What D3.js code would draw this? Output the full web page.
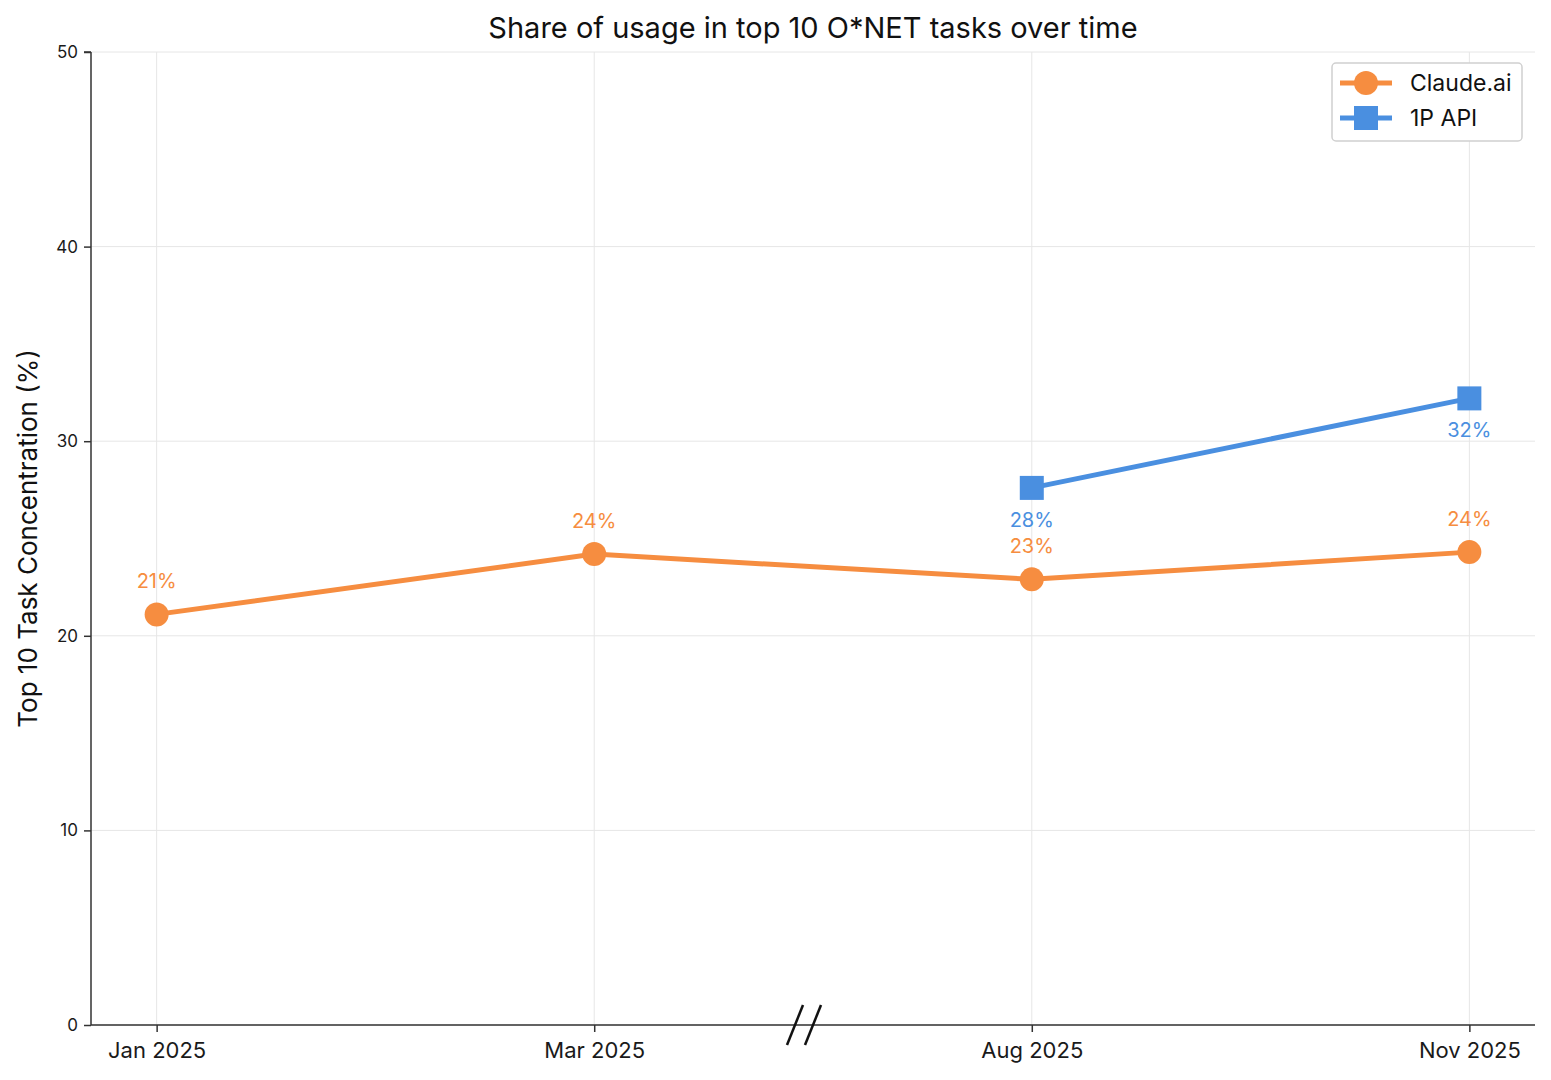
<!DOCTYPE html>
<html>
<head>
<meta charset="utf-8">
<script src="https://cdn.jsdelivr.net/npm/d3@7"></script>
<style>
  body { margin: 0; background: #fff; }
  text { font-family: Inter, "Noto Sans", sans-serif; }
</style>
</head>
<body>
<div id="chart"></div>
<script>
// Data

let periods = ['Jan 2025', 'Mar 2025', 'Aug 2025', 'Nov 2025'];
let claude_values = [21.1, 24.2, 22.9, 24.3];
let api_periods = ['Aug 2025', 'Nov 2025'];
let api_values = [27.6, 32.2];
let y_ticks = [0, 10, 20, 30, 40, 50];

// Canvas

let width = 1551;
let height = 1080;
let margin = {top: 52, right: 16, bottom: 55, left: 91};

let orange = '#F68D40';
let blue = '#4A8FE0';

let svg = d3.select('#chart')
    .append('svg')
    .attr('width', width)
    .attr('height', height);

// Scales

let x = d3.scalePoint()
    .domain(periods)
    .range([margin.left, width - margin.right])
    .padding(0.15);

let y = d3.scaleLinear()
    .domain([0, 50])
    .range([height - margin.bottom, margin.top]);

// Grid

svg.append('g')
    .selectAll('line')
    .data(y_ticks)
    .enter()
    .append('line')
    .attr('x1', margin.left)
    .attr('x2', width - margin.right)
    .attr('y1', d => y(d))
    .attr('y2', d => y(d))
    .attr('stroke', '#e6e6e6')
    .attr('stroke-width', 1);

svg.append('g')
    .selectAll('line')
    .data(periods)
    .enter()
    .append('line')
    .attr('x1', d => x(d))
    .attr('x2', d => x(d))
    .attr('y1', margin.top)
    .attr('y2', height - margin.bottom)
    .attr('stroke', '#e6e6e6')
    .attr('stroke-width', 1);

// Axes

let y_axis = svg.append('g')
    .attr('transform', `translate(${margin.left},0)`)
    .call(d3.axisLeft(y).tickValues(y_ticks).tickSize(7).tickPadding(6));

let x_axis = svg.append('g')
    .attr('transform', `translate(0,${height - margin.bottom})`)
    .call(d3.axisBottom(x).tickSize(7).tickPadding(6));

y_axis.select('.domain').attr('d', `M0,${y(50)}H-7M0,${y(50)}V${y(0)}`);
x_axis.select('.domain').attr('d', `M${margin.left},0H${width - margin.right}`);

[y_axis, x_axis].forEach(a => {
    a.selectAll('.domain, .tick line').attr('stroke', '#333').attr('stroke-width', 1.5);
    a.selectAll('.tick text').attr('fill', '#1a1a1a');
});
y_axis.selectAll('.tick text').attr('font-size', 17);
x_axis.selectAll('.tick text').attr('font-size', 22).attr('dy', '0.9em');

// Axis break between Mar and Aug

let break_x = (x('Mar 2025') + x('Aug 2025')) / 2 - 9;
svg.append('g')
    .selectAll('line')
    .data([-9, 9])
    .enter()
    .append('line')
    .attr('x1', d => break_x + d - 8)
    .attr('x2', d => break_x + d + 8)
    .attr('y1', height - margin.bottom + 20)
    .attr('y2', height - margin.bottom - 20)
    .attr('stroke', '#111')
    .attr('stroke-width', 2.5);

// Lines

let line = d3.line()
    .x(d => x(d[0]))
    .y(d => y(d[1]));

let claude_data = periods.map((p, i) => [p, claude_values[i]]);
let api_data = api_periods.map((p, i) => [p, api_values[i]]);

svg.append('path')
    .datum(claude_data)
    .attr('d', line)
    .attr('fill', 'none')
    .attr('stroke', orange)
    .attr('stroke-width', 5);

svg.append('path')
    .datum(api_data)
    .attr('d', line)
    .attr('fill', 'none')
    .attr('stroke', blue)
    .attr('stroke-width', 5);

// Markers

svg.selectAll('circle.claude')
    .data(claude_data)
    .enter()
    .append('circle')
    .attr('class', 'claude')
    .attr('cx', d => x(d[0]))
    .attr('cy', d => y(d[1]))
    .attr('r', 12)
    .attr('fill', orange);

svg.selectAll('rect.api')
    .data(api_data)
    .enter()
    .append('rect')
    .attr('class', 'api')
    .attr('x', d => x(d[0]) - 12)
    .attr('y', d => y(d[1]) - 12)
    .attr('width', 24)
    .attr('height', 24)
    .attr('fill', blue);

// Data labels

svg.selectAll('text.claude-label')
    .data(claude_data)
    .enter()
    .append('text')
    .attr('class', 'claude-label')
    .text(d => Math.round(d[1]) + '%')
    .attr('x', d => x(d[0]))
    .attr('y', d => y(d[1]) - 26)
    .attr('font-size', 20)
    .attr('fill', orange)
    .attr('text-anchor', 'middle');

svg.selectAll('text.api-label')
    .data(api_data)
    .enter()
    .append('text')
    .attr('class', 'api-label')
    .text(d => Math.round(d[1]) + '%')
    .attr('x', d => x(d[0]))
    .attr('y', d => y(d[1]) + 39)
    .attr('font-size', 20)
    .attr('fill', blue)
    .attr('text-anchor', 'middle');

// Title and axis label

svg.append('text')
    .text('Share of usage in top 10 O*NET tasks over time')
    .attr('x', (margin.left + width - margin.right) / 2)
    .attr('y', 38)
    .attr('font-size', 29)
    .attr('fill', '#111')
    .attr('text-anchor', 'middle');

svg.append('text')
    .text('Top 10 Task Concentration (%)')
    .attr('transform', `translate(37,${(margin.top + height - margin.bottom) / 2}) rotate(-90)`)
    .attr('font-size', 26)
    .attr('fill', '#111')
    .attr('text-anchor', 'middle');

// Legend

let legend = svg.append('g').attr('transform', 'translate(1332,63)');

legend.append('rect')
    .attr('width', 190)
    .attr('height', 78)
    .attr('rx', 4)
    .attr('fill', '#fff')
    .attr('stroke', '#d0d0d0')
    .attr('stroke-width', 1.5);

let legend_items = [
    {name: 'Claude.ai', color: orange, shape: 'circle'},
    {name: '1P API', color: blue, shape: 'square'}
];

legend_items.forEach((item, i) => {
    let g = legend.append('g').attr('transform', `translate(0,${20 + i * 35})`);
    g.append('line')
        .attr('x1', 8).attr('x2', 60)
        .attr('stroke', item.color).attr('stroke-width', 5);
    if (item.shape === 'circle') {
        g.append('circle').attr('cx', 34).attr('r', 12).attr('fill', item.color);
    } else {
        g.append('rect').attr('x', 22).attr('y', -12).attr('width', 24).attr('height', 24).attr('fill', item.color);
    }
    g.append('text')
        .text(item.name)
        .attr('x', 78)
        .attr('dy', '0.35em')
        .attr('font-size', 23)
        .attr('fill', '#111');
});
</script>
</body>
</html>
